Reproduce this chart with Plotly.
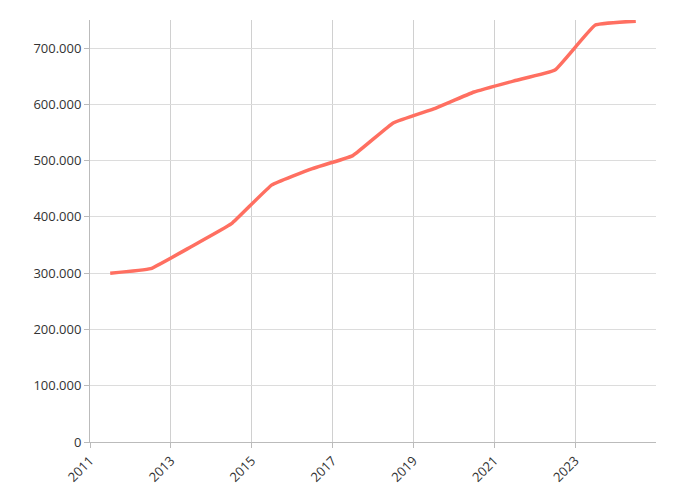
import plotly.graph_objects as go

# mid-year observations
years = [2011.5, 2012.5, 2013.5, 2014.5, 2015.5, 2016.5, 2017.5,
         2018.5, 2019.5, 2020.5, 2021.5, 2022.5, 2023.5, 2024.5]
values = [300000, 308000, 347000, 388000, 457000, 486000, 509000,
          567000, 592000, 622000, 642000, 661000, 741000, 748000]
tick_years = [2011, 2013, 2015, 2017, 2019, 2021, 2023]

fig = go.Figure(go.Scatter(
    x=years, y=values, mode="lines",
    line=dict(color="#ff6f61", width=3.5, shape="spline", smoothing=0.3),
))

# the page body adds an 8px offset, so margins compensate
fig.update_layout(
    width=676, height=500,
    margin=dict(l=82, r=28, t=12, b=66),
    plot_bgcolor="white", paper_bgcolor="white",
    separators=",.",
    font=dict(family="Open Sans", size=13, color="#333"),
    showlegend=False,
)
fig.update_xaxes(
    range=[2011, 2025], tickvals=tick_years, ticktext=[str(t) for t in tick_years],
    tickangle=-45, showgrid=True, gridcolor="#d0d0d0",
    showline=True, linecolor="#bbb", ticks="outside", ticklen=5, tickcolor="#bbb",
)
fig.update_yaxes(
    range=[0, 750000], dtick=100000, tickformat=",d",
    showgrid=True, gridcolor="#dcdcdc", zeroline=False,
    showline=True, linecolor="#bbb", ticks="outside", ticklen=5, tickcolor="#bbb",
)

fig.write_html("out.html")
